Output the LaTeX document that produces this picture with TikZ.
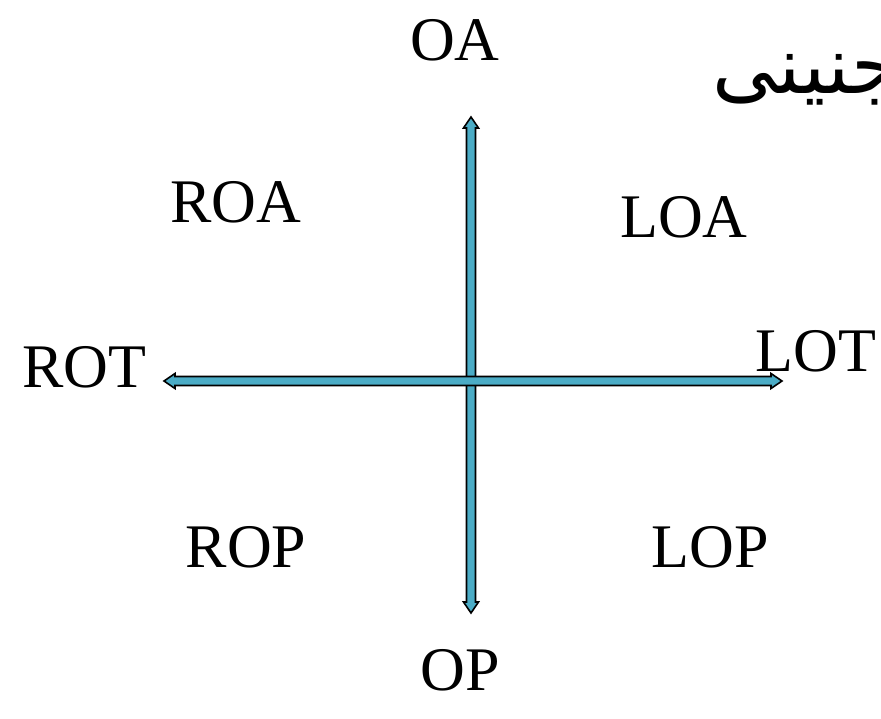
\documentclass[tikz,border=0pt]{standalone}
\usepackage{fontspec}
\setmainfont{Liberation Serif}
\newfontfamily\arabicfont[Script=Arabic]{DejaVu Sans}
\TeXXeTstate=1
\definecolor{arrowblue}{RGB}{75,172,198}
\begin{document}
\begin{tikzpicture}[x=1pt,y=-1pt,
  lbl/.style={inner sep=0pt,font=\fontsize{62}{62}\selectfont},
  blockarrow/.style={fill=arrowblue,draw=black,line width=1.6pt,line join=miter}]
\useasboundingbox (0,0) rectangle (881,718);
% vertical double arrow
\filldraw[blockarrow] (471,117) -- (478.5,128) -- (475.5,128) -- (475.5,602) -- (478.5,602) -- (471,613) -- (463.5,602) -- (466.5,602) -- (466.5,128) -- (463.5,128) -- cycle;
% horizontal double arrow
\filldraw[blockarrow] (164,381) -- (175,373.5) -- (175,376.5) -- (771,376.5) -- (771,373.5) -- (782,381) -- (771,388.5) -- (771,385.5) -- (175,385.5) -- (175,388.5) -- cycle;
\node[lbl] (oa) at (455,40) {OA};
\node[lbl] (roa) at (236,202) {ROA};
\node[lbl] (loa) at (684,217) {LOA};
\node[lbl] (rot) at (84,367) {ROT};
\node[lbl] (lot) at (816,351) {LOT};
\node[lbl] (rop) at (246,547) {ROP};
\node[lbl] (lop) at (710,547) {LOP};
\node[lbl] (op) at (460,670) {OP};
\node[inner sep=0pt,anchor=west,font=\arabicfont\fontsize{80}{80}\selectfont] (ar) at (712,80) {\beginR جنینی\endR};
\end{tikzpicture}
\end{document}
